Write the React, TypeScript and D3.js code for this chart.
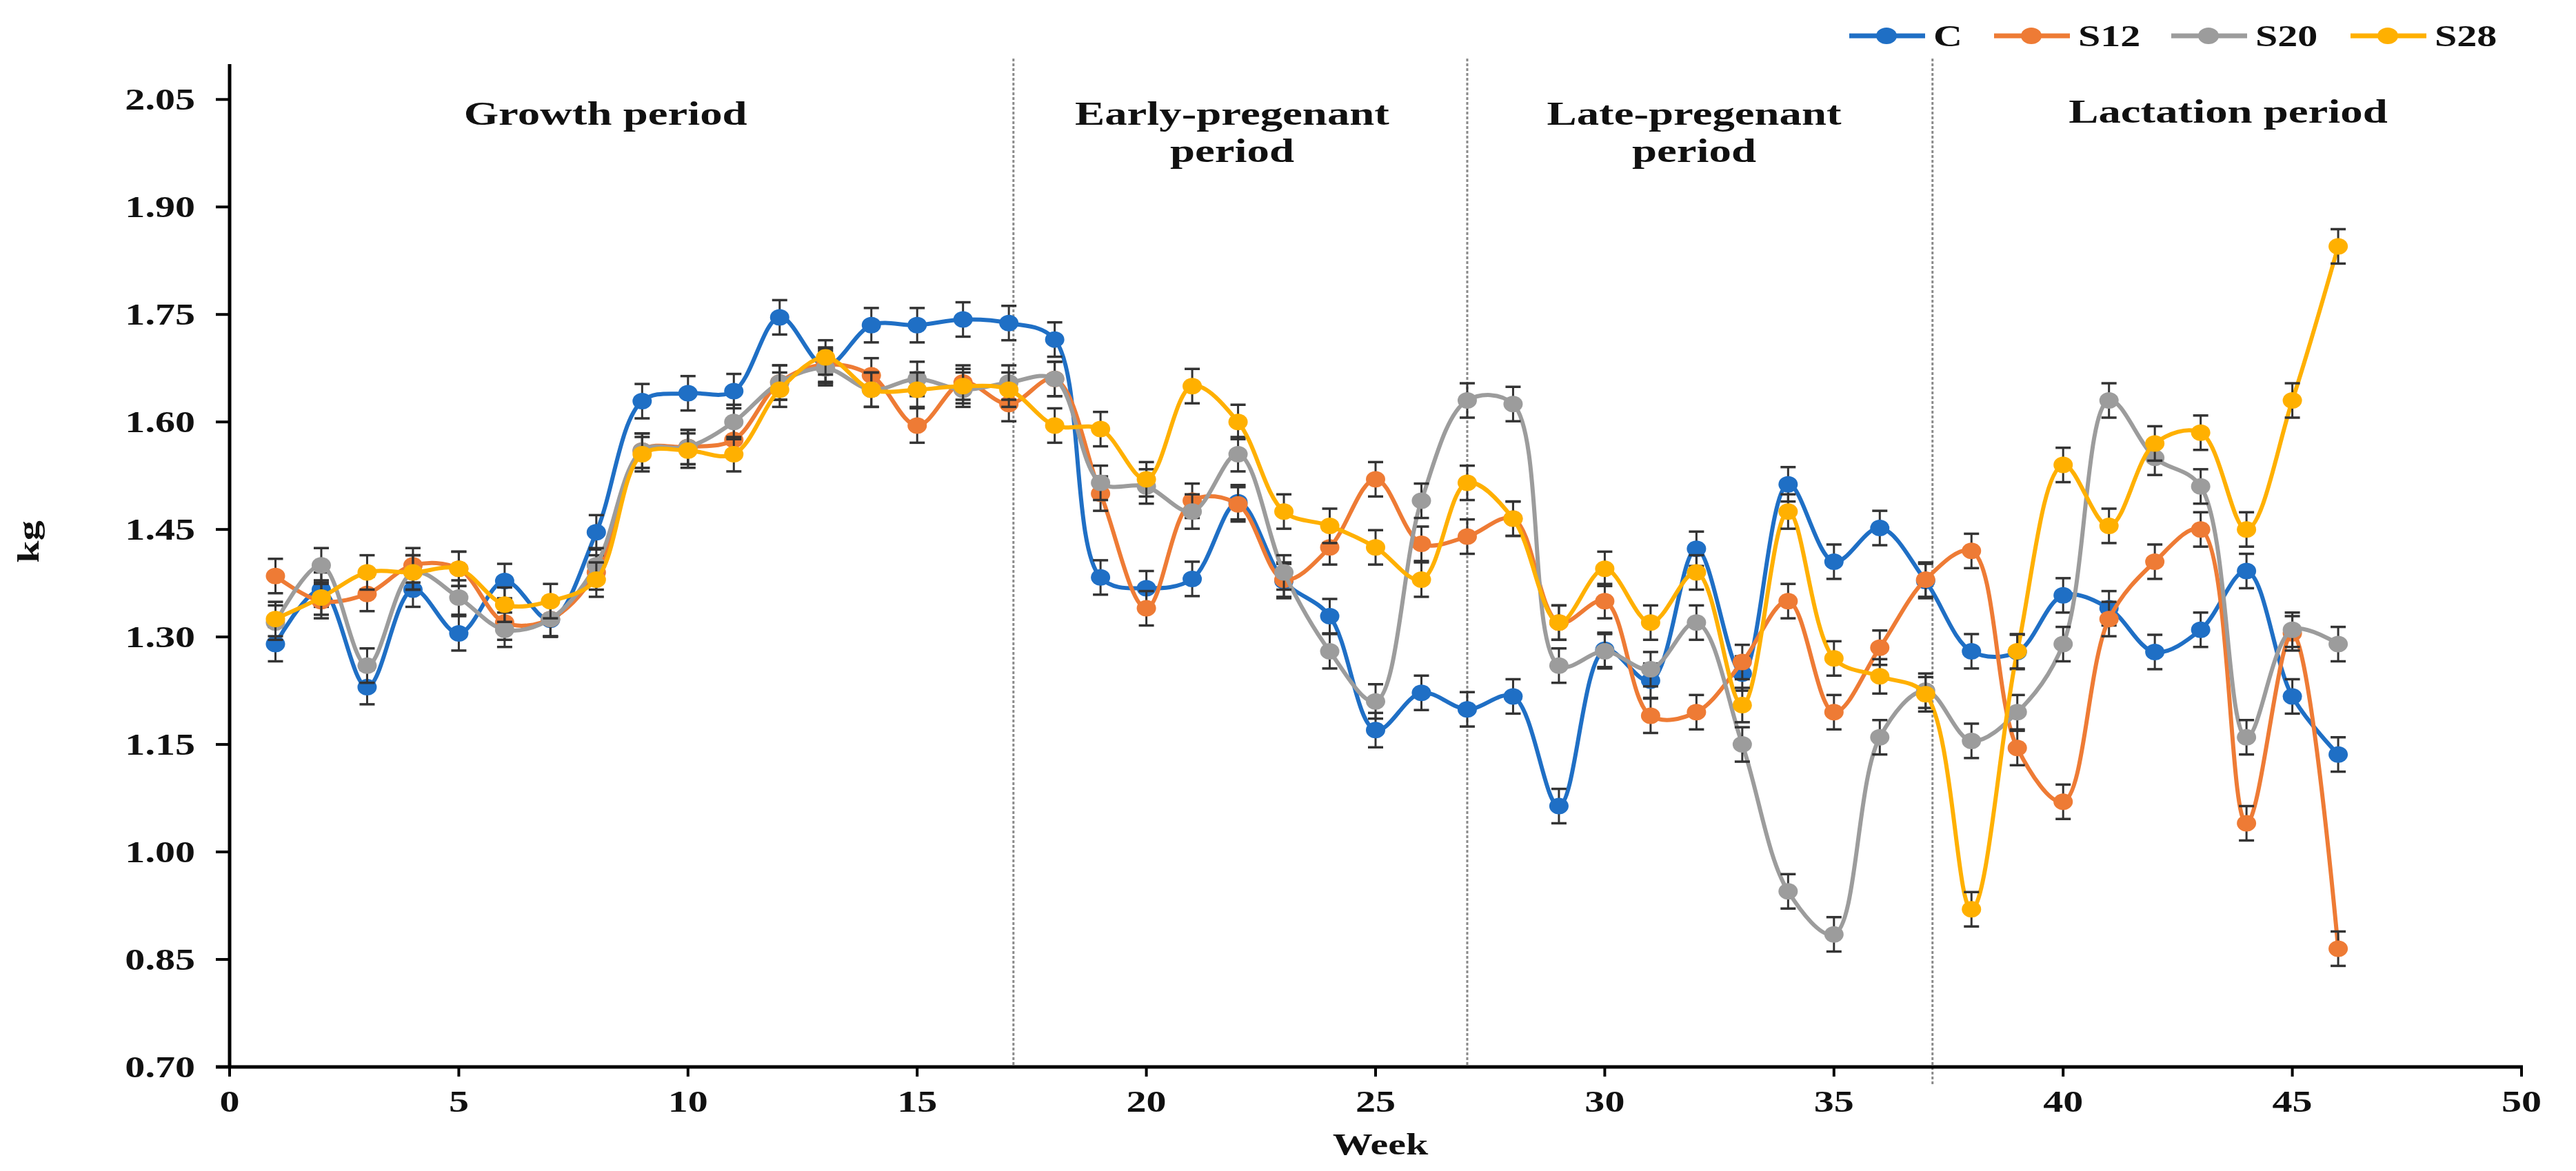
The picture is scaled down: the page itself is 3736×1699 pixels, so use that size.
import React from "react";
import * as d3 from "d3";

const weeks = d3.range(1, 47);

const seriesNames = ["C", "S12", "S20", "S28"];
const seriesColors = ["#1F6FC5", "#EE7B35", "#9C9C9C", "#FFB000"];

const valuesC = [
  1.29, 1.366, 1.23, 1.366, 1.305, 1.378, 1.324, 1.446, 1.629, 1.64, 1.643, 1.746, 1.678, 1.735, 1.735, 1.743,
  1.738, 1.715, 1.383, 1.368, 1.381, 1.488, 1.378, 1.329, 1.17, 1.222, 1.199, 1.217, 1.064, 1.282, 1.239, 1.423,
  1.249, 1.513, 1.405, 1.452, 1.378, 1.28, 1.279, 1.358, 1.34, 1.279, 1.31, 1.392, 1.217, 1.136,
];
const valuesS12 = [
  1.385, 1.35, 1.36, 1.4, 1.395, 1.32, 1.325, 1.39, 1.56, 1.565, 1.575, 1.655, 1.68, 1.665, 1.595, 1.655, 1.625,
  1.66, 1.5, 1.34, 1.49, 1.485, 1.38, 1.425, 1.52, 1.43, 1.44, 1.465, 1.32, 1.35, 1.19, 1.195, 1.265, 1.35, 1.195,
  1.285, 1.38, 1.42, 1.145, 1.07, 1.325, 1.405, 1.45, 1.04, 1.305, 0.865,
];
const valuesS20 = [
  1.32, 1.4, 1.26, 1.39, 1.355, 1.31, 1.325, 1.4, 1.56, 1.565, 1.6, 1.655, 1.675, 1.645, 1.66, 1.645, 1.655, 1.66,
  1.515, 1.51, 1.475, 1.555, 1.39, 1.28, 1.21, 1.49, 1.63, 1.625, 1.26, 1.28, 1.255, 1.32, 1.15, 0.945, 0.885,
  1.16, 1.225, 1.155, 1.195, 1.29, 1.63, 1.55, 1.51, 1.16, 1.31, 1.29,
];
const valuesS28 = [
  1.325, 1.355, 1.39, 1.39, 1.395, 1.345, 1.35, 1.38, 1.555, 1.56, 1.555, 1.645, 1.69, 1.645, 1.645, 1.65, 1.645,
  1.595, 1.59, 1.52, 1.65, 1.6, 1.475, 1.455, 1.425, 1.38, 1.515, 1.465, 1.32, 1.395, 1.32, 1.39, 1.205, 1.475,
  1.27, 1.245, 1.22, 0.92, 1.28, 1.54, 1.455, 1.57, 1.585, 1.45, 1.63, 1.845,
];
const seriesValues = [valuesC, valuesS12, valuesS20, valuesS28];
const errorSE = 0.024;

const xTicks = [0, 5, 10, 15, 20, 25, 30, 35, 40, 45, 50];
const yTicks = [0.7, 0.85, 1.0, 1.15, 1.3, 1.45, 1.6, 1.75, 1.9, 2.05];

const periodDividers = [17.1, 27, 37.15];
const periodLabels = [
  { lines: ["Growth period"], week: 8.2 },
  { lines: ["Early-pregenant", "period"], week: 21.87 },
  { lines: ["Late-pregenant", "period"], week: 31.95 },
  { lines: ["Lactation period"], week: 43.6 },
];

// layout
const W = 3736;
const H = 1699;
const FONT = "'Liberation Serif', 'Times New Roman', serif";
const FS = 44;
const SX = 1.32;

const x = d3.scaleLinear().domain([0, 50]).range([333, 3657]);
const y = d3.scaleLinear().domain([0.7, 2.05]).range([1548, 144.3]);

const line = d3
  .line<number>()
  .x((_, i) => x(weeks[i]))
  .y((d) => y(d))
  .curve(d3.curveCatmullRom.alpha(0.5));

function SText({ x0, y0, anchor, children, fs = FS, sx = SX }: any) {
  return (
    <text
      transform={`translate(${x0},${y0}) scale(${sx},1)`}
      textAnchor={anchor}
      fontFamily={FONT}
      fontWeight="bold"
      fontSize={fs}
      fill="#111"
    >
      {children}
    </text>
  );
}

export default function App() {
  const legendX = [2682, 2892, 3149, 3409];
  const legendY = 52;
  return (
    <svg
      width={W}
      height={H}
      style={{ position: "absolute", left: 0, top: 0, background: "#fff" }}
    >
      <rect x={0} y={0} width={W} height={H} fill="#fff" />
      {/* period dividers */}
      {periodDividers.map((w, i) => (
        <line
          key={i}
          x1={x(w)}
          x2={x(w)}
          y1={85}
          y2={i === 2 ? 1575 : 1548}
          stroke="#8a8a8a"
          strokeWidth={3}
          strokeDasharray="4,3"
        />
      ))}
      {/* period labels */}
      {periodLabels.map((p, i) =>
        p.lines.map((t, j) => (
          <SText
            key={i + "-" + j}
            x0={x(p.week)}
            y0={(i === 3 ? 178 : 181) + j * 54}
            anchor="middle"
            fs={48}
            sx={1.35}
          >
            {t}
          </SText>
        ))
      )}
      {/* axes */}
      <line x1={333} x2={333} y1={93} y2={1550} stroke="#000" strokeWidth={5} />
      <line x1={313} x2={3659} y1={1548} y2={1548} stroke="#000" strokeWidth={5} />
      {yTicks.map((t) => (
        <g key={"y" + t}>
          <line x1={313} x2={333} y1={y(t)} y2={y(t)} stroke="#000" strokeWidth={4} />
          <SText x0={283} y0={y(t) + 15} anchor="end">
            {t.toFixed(2)}
          </SText>
        </g>
      ))}
      {xTicks.map((t) => (
        <g key={"x" + t}>
          <line x1={x(t)} x2={x(t)} y1={1548} y2={1562} stroke="#000" strokeWidth={4} />
          <SText x0={x(t)} y0={1613} anchor="middle">
            {t}
          </SText>
        </g>
      ))}
      <SText x0={2002} y0={1675} anchor="middle">
        Week
      </SText>
      <text
        transform={`translate(56,786) rotate(-90) scale(${SX},1)`}
        textAnchor="middle"
        fontFamily={FONT}
        fontWeight="bold"
        fontSize={FS}
        fill="#111"
      >
        kg
      </text>
      {/* series */}
      {seriesValues.map((vals, si) => (
        <g key={"s" + si}>
          <path d={line(vals) || ""} fill="none" stroke={seriesColors[si]} strokeWidth={6} />
          {vals.map((v, i) => (
            <g key={i}>
              <line x1={x(weeks[i])} x2={x(weeks[i])} y1={y(v - errorSE)} y2={y(v + errorSE)} stroke="#333" strokeWidth={3} />
              <line x1={x(weeks[i]) - 11} x2={x(weeks[i]) + 11} y1={y(v - errorSE)} y2={y(v - errorSE)} stroke="#333" strokeWidth={3.5} />
              <line x1={x(weeks[i]) - 11} x2={x(weeks[i]) + 11} y1={y(v + errorSE)} y2={y(v + errorSE)} stroke="#333" strokeWidth={3.5} />
              <ellipse cx={x(weeks[i])} cy={y(v)} rx={14} ry={12} fill={seriesColors[si]} />
            </g>
          ))}
        </g>
      ))}
      {/* legend */}
      {seriesNames.map((n, i) => (
        <g key={"l" + n}>
          <line x1={legendX[i]} x2={legendX[i] + 110} y1={legendY} y2={legendY} stroke={seriesColors[i]} strokeWidth={7} />
          <ellipse cx={legendX[i] + 54} cy={legendY} rx={15} ry={12} fill={seriesColors[i]} />
          <SText x0={legendX[i] + 122} y0={legendY + 15} anchor="start">
            {n}
          </SText>
        </g>
      ))}
    </svg>
  );
}
